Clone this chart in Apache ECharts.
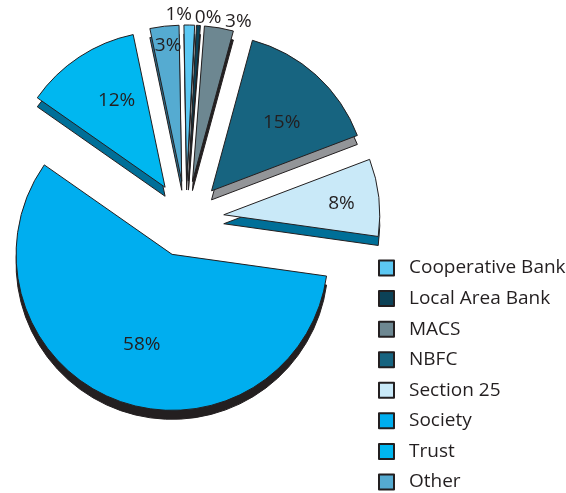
<!DOCTYPE html>
<html>
<head>
<meta charset="utf-8">
<script src="https://cdn.jsdelivr.net/npm/echarts@6/dist/echarts.min.js"></script>
<style>
html,body{margin:0;padding:0;background:#fff;}
#chart{width:566px;height:493px;}
</style>
</head>
<body>
<div id="chart"></div>
<script>
const categories = ['Cooperative Bank','Local Area Bank','MACS','NBFC','Section 25','Society','Trust','Other'];
const shares = [1.1, 0.4, 3.0, 15.0, 8.0, 57.5, 12.0, 3.0];
const topColors = ['#5cc8f3','#0c4257','#6d8791','#176480','#c9e9f8','#00aeef','#00b7f0','#55abd1'];
const sideColors = ['#2a7fa6','#231f20','#231f20','#939598','#006f98','#231f20','#006f98','#2a6f8f'];
const outsideLabel = [true, true, true, false, false, false, false, false];
// small label nudges [dx, dy] to mimic the original placement
const labelNudge = [[-29,-4],[-9,-2],[0,0],[0,9],[14,0],[8,-7],[9,0],[-2,-32]];

const FONT = '"Open Sans", "Noto Sans", sans-serif';
const CX = 186, CY = 219, R = 156, DEPTH = 9, EXPLODE = 38;

const mainData = categories.map((n, i) => ({
  name: n, value: shares[i], selected: true,
  itemStyle: { color: topColors[i] }
}));
const sideData = categories.map((n, i) => ({
  name: n, value: shares[i], selected: true,
  itemStyle: { color: sideColors[i] }
}));
const labelData = categories.map((n, i) => ({
  name: n, value: shares[i], selected: true,
  label: outsideLabel[i] ? { position: 'outside' } : { position: 'inside' }
}));

const common = {
  type: 'pie', startAngle: 91, clockwise: true,
  selectedMode: 'multiple', selectedOffset: EXPLODE,
  avoidLabelOverlap: false, animation: false,
  emphasis: { disabled: true }
};

const chart = echarts.init(document.getElementById('chart'), null, { renderer: 'canvas' });
chart.setOption({
  backgroundColor: '#ffffff',
  legend: {
    orient: 'vertical', left: 378, top: 258.5, padding: 0,
    itemWidth: 15, itemHeight: 15, itemGap: 11.57,
    icon: 'rect', selectedMode: false,
    data: categories,
    textStyle: { fontFamily: FONT, fontSize: 19, color: '#231f20', lineHeight: 19, padding: [0,0,0,10] }
  },
  series: [
    Object.assign({}, common, {
      name: 'top', z: 3, center: [CX, CY], radius: R,
      label: { show: false }, labelLine: { show: false },
      itemStyle: { borderColor: '#231f20', borderWidth: 1 },
      select: { itemStyle: { borderColor: '#231f20', borderWidth: 1 } },
      data: mainData
    }),
    Object.assign({}, common, {
      name: 'side', z: 1, silent: true, center: [CX, CY + DEPTH], radius: R,
      label: { show: false }, labelLine: { show: false },
      itemStyle: { borderColor: '#231f20', borderWidth: 1 },
      select: { itemStyle: { borderColor: '#231f20', borderWidth: 1 } },
      data: sideData
    }),
    Object.assign({}, common, {
      name: 'labels', z: 5, silent: true, center: [CX, CY], radius: [R * 0.3, R],
      percentPrecision: 0,
      itemStyle: { color: 'rgba(0,0,0,0)', borderWidth: 0 },
      select: { itemStyle: { color: 'rgba(0,0,0,0)', borderWidth: 0 } },
      label: { show: true, formatter: '{d}%', fontFamily: FONT, fontSize: 19, color: '#231f20' },
      labelLine: { show: false, length: 6, length2: 0 },
      labelLayout: function (p) {
        const n = labelNudge[p.dataIndex] || [0, 0];
        return { dx: n[0], dy: n[1], hideOverlap: false };
      },
      data: labelData
    })
  ]
});
</script>
</body>
</html>
